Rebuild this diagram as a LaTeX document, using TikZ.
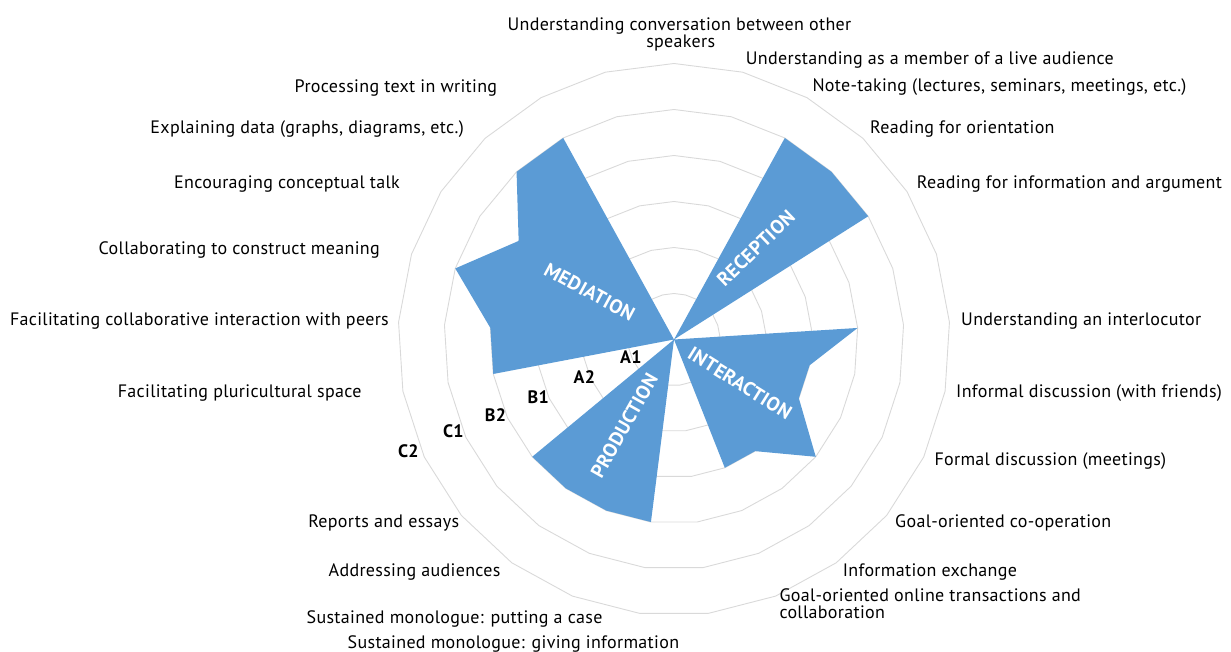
\documentclass[tikz,border=0pt]{standalone}
\usepackage{fontspec}
\setmainfont{PT Sans}[LetterSpace=1.8]
\definecolor{blu}{HTML}{5B9BD5}
\definecolor{ringgray}{HTML}{D9D9D9}
\begin{document}
\begin{tikzpicture}[x=1bp,y=-1bp,
  ring/.style={draw=ringgray, line width=0.9bp, line join=round},
  area/.style={fill=blu},
  lbl/.style={inner sep=0pt, font=\fontsize{18bp}{18bp}\selectfont},
  lvl/.style={inner sep=0pt, font=\fontsize{18bp}{18bp}\selectfont\bfseries},
  sect/.style={inner sep=0pt, text=white, font=\fontsize{19.5bp}{19.5bp}\selectfont\bfseries},
]
\useasboundingbox (0,0) rectangle (1231,652);
\coordinate (c) at (674,339.5);
\begin{scope}[shift={(c)}]
  \foreach \r in {1,...,6}{
    \pgfmathsetmacro{\R}{46*\r}
    \draw[ring] (-90:\R) \foreach \k in {1,...,24}{ -- (14.4*\k-90:\R)} -- cycle;
  }
  \fill[area] (0,0) \foreach \v [count=\k from 0] in {0,0,5,5,5,0,4,3,3,4,3,3,0,4,4,4,4,0,4,4,5,4,5,5,0}{
      -- (14.4*\k-90:46*\v)} -- cycle;
\end{scope}

% sector titles
\node[sect, rotate=-28.5] (tmed) at (589.7,292) {MEDIATION};
\node[sect, rotate=44] (trec) at (755.8,248.3) {RECEPTION};
\node[sect, rotate=-32] (tint) at (740,383.3) {INTERACTION};
\node[sect, rotate=60.5] (tpro) at (624.2,425.8) {PRODUCTION};

% level labels
\node[lvl, anchor=base] (a1) at (630.9,363.4) {A1};
\node[lvl, anchor=base] (a2) at (584.4,383.7) {A2};
\node[lvl, anchor=base] (b1) at (538.2,403.6) {B1};
\node[lvl, anchor=base] (b2) at (495.4,421.6) {B2};
\node[lvl, anchor=base] (c1) at (453.3,437.8) {C1};
\node[lvl, anchor=base] (c2) at (408.4,457.2) {C2};

% category labels
\node[lbl, anchor=base] (l0) at (679.4,31) {Understanding conversation between other};
\node[lbl, anchor=base] (l0b) at (680.7,47.7) {speakers};
\node[lbl, anchor=base west] (l1) at (745.7,64.3) {Understanding as a member of a live audience};
\node[lbl, anchor=base west] (l2) at (812.3,91.7) {Note-taking (lectures, seminars, meetings, etc.)};
\node[lbl, anchor=base west] (l3) at (870,133.3) {Reading for orientation};
\node[lbl, anchor=base west] (l4) at (916.7,189) {Reading for information and argument};
\node[lbl, anchor=base west] (l6) at (961,325) {Understanding an interlocutor};
\node[lbl, anchor=base west] (l7) at (956,397.3) {Informal discussion (with friends)};
\node[lbl, anchor=base west] (l8) at (934.3,465.7) {Formal discussion (meetings)};
\node[lbl, anchor=base west] (l9) at (895,527.3) {Goal-oriented co-operation};
\node[lbl, anchor=base west] (l10) at (842.7,576) {Information exchange};
\node[lbl, anchor=base west] (l11) at (779.3,601) {Goal-oriented online transactions and};
\node[lbl, anchor=base west] (l11b) at (779.3,618.3) {collaboration};
\node[lbl, anchor=base east] (l13) at (679.3,648) {Sustained monologue: giving information};
\node[lbl, anchor=base east] (l14) at (602.7,623.3) {Sustained monologue: putting a case};
\node[lbl, anchor=base east] (l15) at (500.7,576) {Addressing audiences};
\node[lbl, anchor=base east] (l16) at (459.3,527.3) {Reports and essays};
\node[lbl, anchor=base east] (l18) at (361.7,397.3) {Facilitating pluricultural space};
\node[lbl, anchor=base east] (l19) at (389,325.7) {Facilitating collaborative interaction with peers};
\node[lbl, anchor=base east] (l20) at (380,254.3) {Collaborating to construct meaning};
\node[lbl, anchor=base east] (l21) at (400,188.3) {Encouraging conceptual talk};
\node[lbl, anchor=base east] (l22) at (464,134) {Explaining data (graphs, diagrams, etc.)};
\node[lbl, anchor=base east] (l23) at (497.3,92.3) {Processing text in writing};
\end{tikzpicture}
\end{document}
